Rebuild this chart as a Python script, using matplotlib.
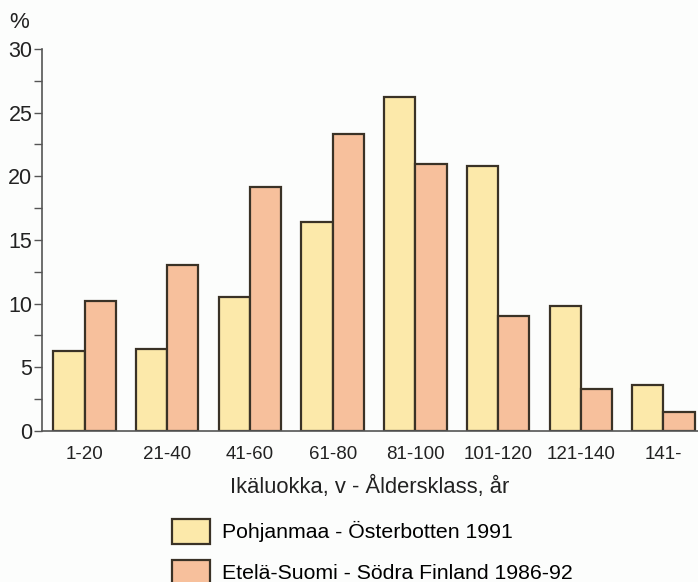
import matplotlib.pyplot as plt
import numpy as np

# ikäluokat ja osuudet (%)
classes = ['1-20', '21-40', '41-60', '61-80', '81-100', '101-120', '121-140', '141-']
pohjanmaa = [6.3, 6.4, 10.5, 16.4, 26.2, 20.8, 9.8, 3.6]
etela_suomi = [10.2, 13.0, 19.2, 23.3, 21.0, 9.0, 3.3, 1.5]
labels = ['Pohjanmaa - Österbotten 1991', 'Etelä-Suomi - Södra Finland 1986-92']

plt.rcParams['font.family'] = ['Liberation Sans', 'DejaVu Sans']

fig = plt.figure(figsize=(6.98, 5.82), dpi=100)
fig.patch.set_facecolor('#fcfdfc')
ax = fig.add_axes([0.0602, 0.2595, 0.9398, 0.6563])
ax.set_facecolor('#fcfdfc')

x = np.arange(len(classes))
w = 0.377
edge = '#3a3226'
b1 = ax.bar(x - w / 2, pohjanmaa, w, color='#fce9aa', edgecolor=edge, linewidth=1.6, label=labels[0])
b2 = ax.bar(x + w / 2, etela_suomi, w, color='#f7c09c', edgecolor=edge, linewidth=1.6, label=labels[1])

ax.set_xlim(-0.514, 7.418)
ax.set_ylim(0, 30)
ax.set_yticks(range(0, 31, 5))
ax.set_yticks(np.arange(0, 30, 2.5), minor=True)
ax.set_xticks(x)
ax.set_xticklabels(classes, fontsize=13.5, color='#222222')
ax.tick_params(axis='x', length=0, pad=11)
ax.tick_params(axis='y', which='both', length=6, width=1, color='#555555',
               labelsize=15.5, labelcolor='#222222', pad=1)

for s in ['top', 'right']:
    ax.spines[s].set_visible(False)
for s in ['left', 'bottom']:
    ax.spines[s].set_color('#555555')
    ax.spines[s].set_linewidth(1.2)

ax.set_xlabel('Ikäluokka, v - Åldersklass, år', fontsize=15.8, color='#222222', labelpad=9)
fig.text(0.013, 0.962, '%', fontsize=16, color='#222222', va='center')

fig.legend(handles=[b1, b2], labels=labels, loc='upper left',
           bbox_to_anchor=(0.247, 0.109), frameon=False, fontsize=15.3,
           handlelength=1.75, handleheight=1.45, labelspacing=0.75,
           handletextpad=0.6, borderpad=0, borderaxespad=0)

fig.savefig('out.png', dpi=100, facecolor=fig.get_facecolor())
